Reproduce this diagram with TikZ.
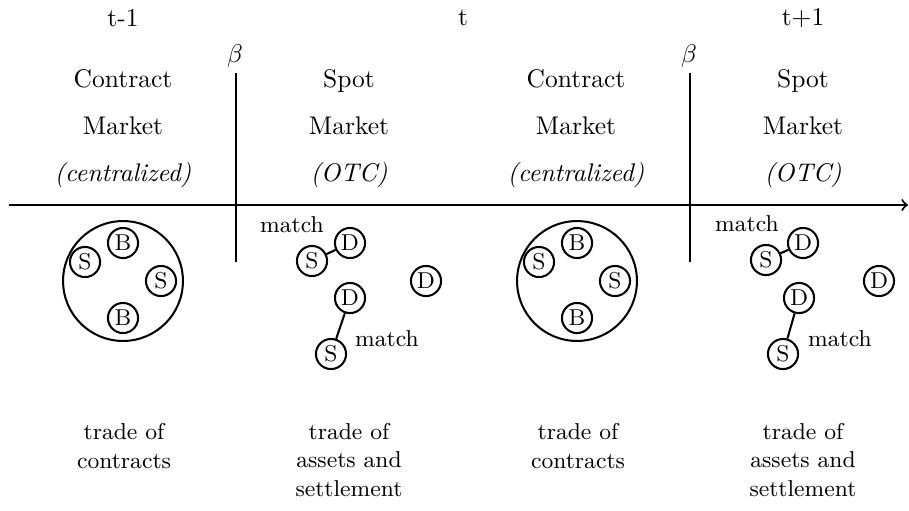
\documentclass[tikz,border=0pt]{standalone}
\usepackage{amsmath}
\usepackage{tikz}
\usetikzlibrary{positioning}
\tikzstyle{head} = [text height=1.6ex, text depth=.3ex]
\tikzstyle{agent} = [draw, circle, minimum size=11.8pt, inner sep=0pt, font=\small]
\tikzstyle{pool} = [draw, circle, minimum size=47pt]
\tikzstyle{tag} = [font=\small]
\tikzstyle{note} = [font=\small, align=center]
\tikzstyle{axis} = [->, thick]

\begin{document}
\begin{tikzpicture}[x=0.01378cm, y=-0.01378cm, node distance=0.648cm, thick]
	\useasboundingbox (0,0) rectangle (909,510);
	%
	\node (tm) at (123,18) {t-1};
	\node (t) at (463,18) {t};
	\node (tp) at (803,18) {t+1};
	%
	\node (cm1) [head] at (123,80) {Contract};
	\node (cm1b) [head,below of=cm1] {Market};
	\node (cm1c) [head,below of=cm1b] {\textit{(centralized)}};
	%
	\node (sm1) [head] at (349,80) {Spot};
	\node (sm1b) [head,below of=sm1] {Market};
	\node (sm1c) [head,below of=sm1b] {\textit{(OTC)}};
	%
	\node (cm2) [head] at (576,80) {Contract};
	\node (cm2b) [head,below of=cm2] {Market};
	\node (cm2c) [head,below of=cm2b] {\textit{(centralized)}};
	%
	\node (sm2) [head] at (803,80) {Spot};
	\node (sm2b) [head,below of=sm2] {Market};
	\node (sm2c) [head,below of=sm2b] {\textit{(OTC)}};
	%
	\coordinate (a0) at (9,205);
	\coordinate (a1) at (908,205);
	\draw [axis] (a0) -- (a1);
	%
	\coordinate (v1t) at (236,73);
	\coordinate (v1b) at (236,262);
	\node (beta1) at (235,56) {$\beta$};
	\draw (v1t) -- (v1b);
	%
	\coordinate (v2t) at (690,73);
	\coordinate (v2b) at (690,262);
	\node (beta2) at (689,56) {$\beta$};
	\draw (v2t) -- (v2b);
	%
	\node (pool1) [pool] at (123,281) {};
	\node (s11) [agent] at (85,262) {S};
	\node (b11) [agent] at (123,243) {B};
	\node (s12) [agent] at (161,281) {S};
	\node (b12) [agent] at (123,318) {B};
	%
	\node (d21) [agent] at (350,243) {D};
	\node (s21) [agent] at (312,261) {S};
	\node (d23) [agent] at (426,281) {D};
	\node (d22) [agent] at (350,298) {D};
	\node (s22) [agent] at (331,354) {S};
	\node (m21) [tag] at (292,225) {match};
	\node (m22) [tag] at (387,339) {match};
	\draw (s21) -- (d21);
	\draw (s22) -- (d22);
	%
	\node (pool2) [pool] at (577,281) {};
	\node (s31) [agent] at (539,262) {S};
	\node (b31) [agent] at (577,243) {B};
	\node (s32) [agent] at (615,281) {S};
	\node (b32) [agent] at (577,318) {B};
	%
	\node (d41) [agent] at (803,243) {D};
	\node (s41) [agent] at (766,260) {S};
	\node (d43) [agent] at (879,281) {D};
	\node (d42) [agent] at (799,298) {D};
	\node (s42) [agent] at (783,354) {S};
	\node (m41) [tag] at (747,224) {match};
	\node (m42) [tag] at (840,339) {match};
	\draw (s41) -- (d41);
	\draw (s42) -- (d42);
	%
	\node (n1) [note] at (124,446) {trade of\\contracts};
	\node (n2) [note] at (349,460) {trade of\\assets and\\settlement};
	\node (n3) [note] at (578,446) {trade of\\contracts};
	\node (n4) [note] at (803,460) {trade of\\assets and\\settlement};
\end{tikzpicture}
\end{document}
